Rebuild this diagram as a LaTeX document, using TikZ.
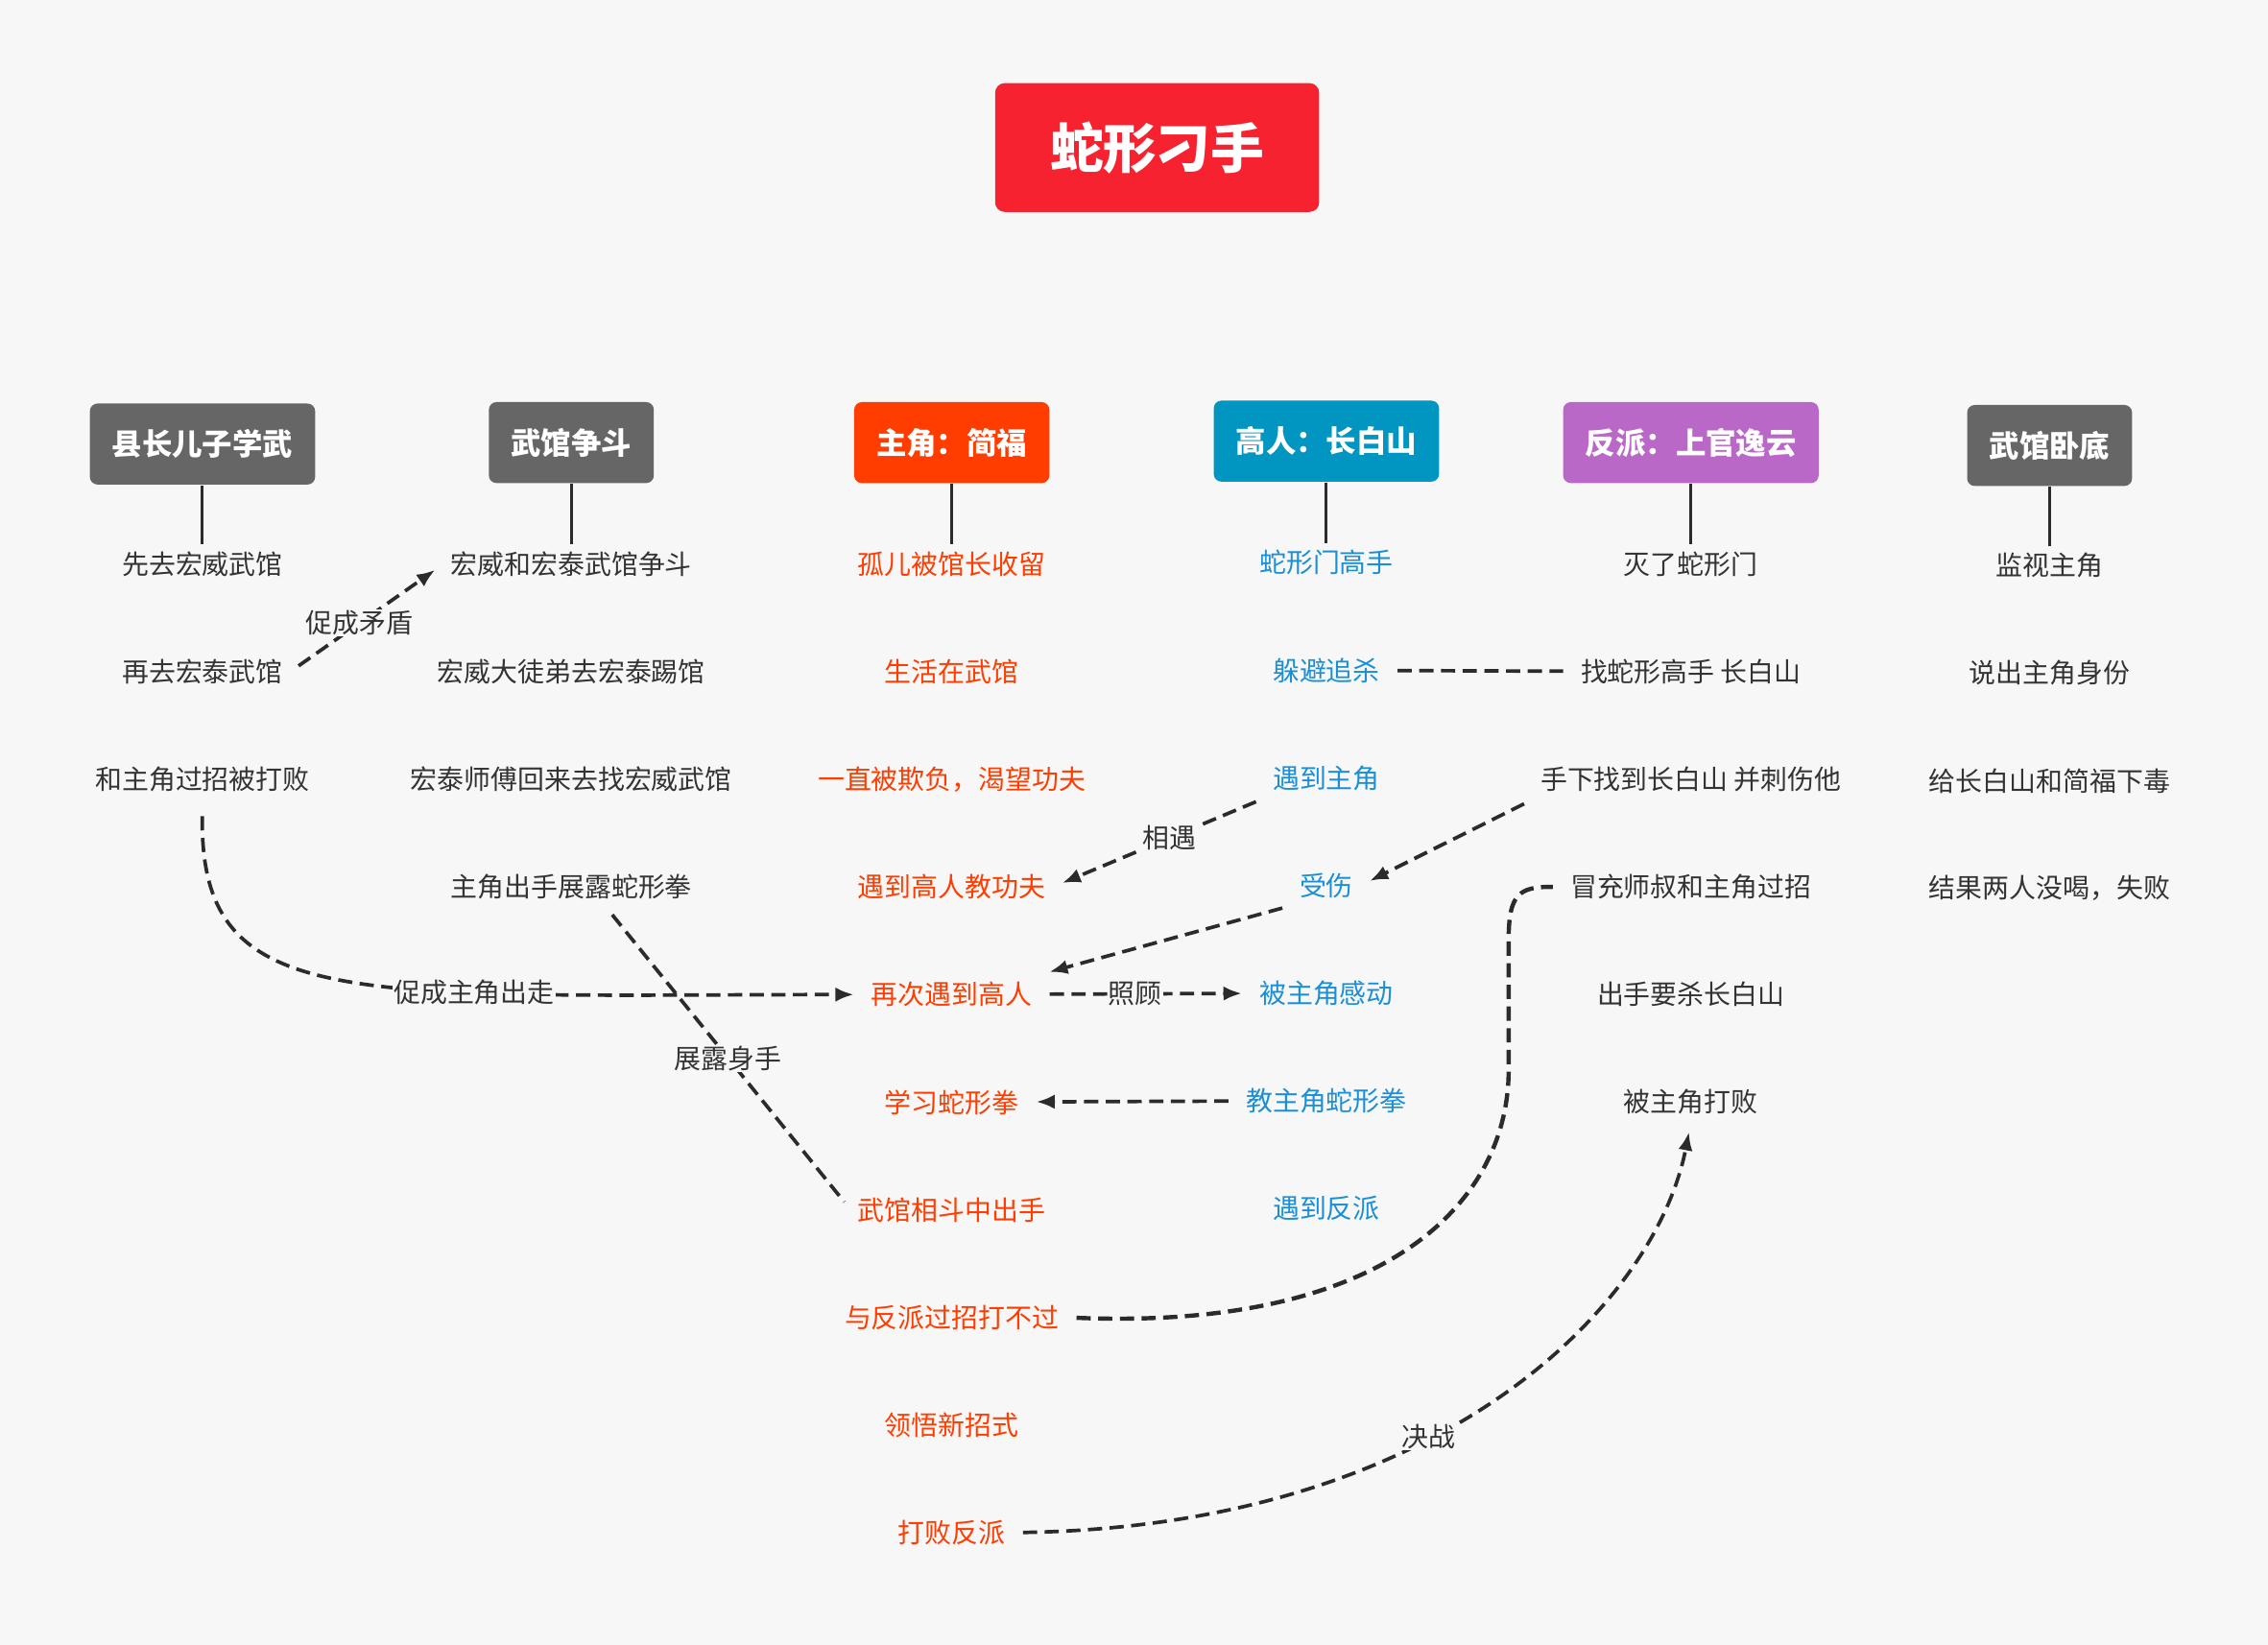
\documentclass[tikz,border=0pt]{standalone}
\usepackage{fontspec}
\setmainfont{Noto Sans CJK SC}
\usetikzlibrary{positioning,calc,arrows.meta}
\definecolor{bgcol}{HTML}{F7F7F7}
\definecolor{titlered}{HTML}{F72230}
\definecolor{graybox}{HTML}{666666}
\definecolor{herobox}{HTML}{FF3D00}
\definecolor{masterbox}{HTML}{0096C1}
\definecolor{villainbox}{HTML}{B968C7}
\definecolor{darktxt}{HTML}{333333}
\definecolor{herotxt}{HTML}{FF3D00}
\definecolor{mastertxt}{HTML}{1A8FD5}
\definecolor{linecol}{HTML}{2B2B2B}

\begin{document}
\begin{tikzpicture}[
    x=0.015cm, y=-0.015cm,
    node distance=1.116cm,
    >={Latex[length=1.9mm,width=1.5mm]},
    title/.style={fill=titlered,text=white,font=\bfseries\fontsize{15.8}{18}\selectfont,rounded corners=1mm,inner xsep=5.7mm,minimum height=13.35mm},
    hdr/.style={text=white,font=\bfseries\fontsize{8.9}{10}\selectfont,rounded corners=0.8mm,inner xsep=2.3mm,minimum height=8.4mm},
    item/.style={font=\fontsize{7.9}{9}\selectfont,inner sep=2pt,text=darktxt},
    hero/.style={item,text=herotxt},
    master/.style={item,text=mastertxt},
    stem/.style={draw=linecol,line width=0.85pt},
    link/.style={draw=linecol,line width=1.05pt,dash pattern=on 4.2pt off 2.2pt,shorten <=3pt,shorten >=3pt},
    lbl/.style={fill=bgcol,inner sep=0.3pt,font=\fontsize{7.9}{9}\selectfont,text=darktxt}
    ]
        \fill [bgcol] (0,0) rectangle (1568,1137);
        \useasboundingbox (0,0) rectangle (1568,1137);

        \node [title](top) at (800,102) {蛇形刁手};

        \node [hdr,fill=graybox](hA) at (140,307) {县长儿子学武};
        \node [hdr,fill=graybox](hB) at (395,306) {武馆争斗};
        \node [hdr,fill=herobox](hC) at (658,306) {主角：简福};
        \node [hdr,fill=masterbox](hD) at (917,305) {高人：长白山};
        \node [hdr,fill=villainbox](hE) at (1169,306) {反派：上官逸云};
        \node [hdr,fill=graybox](hF) at (1417,308) {武馆卧底};

        \node [item](a1) at (140,390) {先去宏威武馆};
        \node [item](a2) [below of=a1] {再去宏泰武馆};
        \node [item](a3) [below of=a2] {和主角过招被打败};

        \node [item](b1) at (395,390) {宏威和宏泰武馆争斗};
        \node [item](b2) [below of=b1] {宏威大徒弟去宏泰踢馆};
        \node [item](b3) [below of=b2] {宏泰师傅回来去找宏威武馆};
        \node [item](b4) [below of=b3] {主角出手展露蛇形拳};

        \node [hero](c1) at (658,390) {孤儿被馆长收留};
        \node [hero](c2) [below of=c1] {生活在武馆};
        \node [hero](c3) [below of=c2] {一直被欺负，渴望功夫};
        \node [hero](c4) [below of=c3] {遇到高人教功夫};
        \node [hero](c5) [below of=c4] {再次遇到高人};
        \node [hero](c6) [below of=c5] {学习蛇形拳};
        \node [hero](c7) [below of=c6] {武馆相斗中出手};
        \node [hero](c8) [below of=c7] {与反派过招打不过};
        \node [hero](c9) [below of=c8] {领悟新招式};
        \node [hero](c10) [below of=c9] {打败反派};

        \node [master](d1) at (917,389) {蛇形门高手};
        \node [master](d2) [below of=d1] {躲避追杀};
        \node [master](d3) [below of=d2] {遇到主角};
        \node [master](d4) [below of=d3] {受伤};
        \node [master](d5) [below of=d4] {被主角感动};
        \node [master](d6) [below of=d5] {教主角蛇形拳};
        \node [master](d7) [below of=d6] {遇到反派};

        \node [item](e1) at (1169,390) {灭了蛇形门};
        \node [item](e2) [below of=e1] {找蛇形高手 长白山};
        \node [item](e3) [below of=e2] {手下找到长白山 并刺伤他};
        \node [item](e4) [below of=e3] {冒充师叔和主角过招};
        \node [item](e5) [below of=e4] {出手要杀长白山};
        \node [item](e6) [below of=e5] {被主角打败};

        \node [item](f1) at (1417,391) {监视主角};
        \node [item](f2) [below of=f1] {说出主角身份};
        \node [item](f3) [below of=f2] {给长白山和简福下毒};
        \node [item](f4) [below of=f3] {结果两人没喝，失败};

        \coordinate (riseA) at (1043,740);
        \coordinate (riseB) at (1043,650);

        \foreach \h/\i in {hA/a1,hB/b1,hC/c1,hD/d1,hE/e1,hF/f1}
            \draw [stem] (\h) -- (\i);

        \draw [link,->] (a2.east) -- node[lbl,pos=0.45]{促成矛盾} (b1.west);
        \draw [link,->,shorten <=5pt] (a3.south) .. controls (138,700) and (240,688) .. node[lbl,pos=0.68]{促成主角出走} (c5.west);
        \draw [link] (b4.-30) -- node[lbl]{展露身手} (c7.west);
        \draw [link,->] (d3.south west) -- node[lbl,pos=0.45]{相遇} (c4.east);
        \draw [link,->] (d4.south west) -- (c5.north east);
        \draw [link,->] (e3.south west) -- (d4.east);
        \draw [link] (d2) -- (e2);
        \draw [link,->] (c5) -- node[lbl,pos=0.45]{照顾} (d5);
        \draw [link,->] (d6) -- (c6);
        \draw [link,line width=1.25pt] (c8.east) .. controls (960,920) and (1043,830) .. (riseA) -- (riseB) .. controls (1043,618) and (1050,613) .. (e4.west);
        \draw [link,->] (c10.east) .. controls (1000,1055) and (1145,900) .. node[lbl,pos=0.4]{决战} (e6.south);

\end{tikzpicture}
\end{document}
